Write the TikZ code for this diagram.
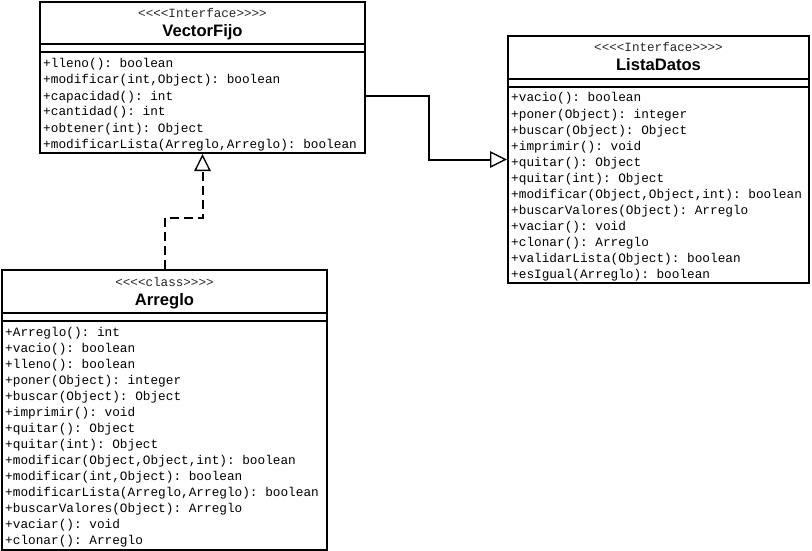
\documentclass[tikz,border=0pt]{standalone}
\usepackage{fontspec}
\setmainfont{Liberation Sans}
\setmonofont{Liberation Mono}
\usetikzlibrary{arrows.meta}
\begin{document}
\begin{tikzpicture}[x=1pt,y=-1pt]
\tikzset{
 classbox/.style={draw, line width=2pt, fill=white, inner sep=0pt, anchor=north west},
 sepline/.style={line width=2pt},
 stereo/.style={font=\fontsize{12.6}{13}\selectfont\ttfamily, text=black!85, anchor=base, inner sep=0pt},
 cname/.style={font=\fontsize{16.6}{18}\selectfont\bfseries, anchor=base, inner sep=0pt},
 meth/.style={font=\fontsize{12.75}{16}\selectfont\ttfamily, anchor=base west, inner sep=0pt},
 conn/.style={line width=2pt},
 realize/.style={conn, -{Triangle[open, fill=white, length=17pt, width=16.5pt, line width=1.4pt]}},
 impl/.style={realize, dash pattern=on 9pt off 5pt},
}
\useasboundingbox (0,0) rectangle (812,551);

% VectorFijo
\node[classbox, minimum width=325pt, minimum height=151pt] (vf) at (39,1) {};
\draw[sepline] ([yshift=-43pt]vf.north west) -- ([yshift=-43pt]vf.north east);
\draw[sepline] ([yshift=-51pt]vf.north west) -- ([yshift=-51pt]vf.north east);
\node[stereo] (vfst) at ([yshift=-17pt]vf.north) {<<<<Interface>>>>};
\node[cname] (vfname) at ([yshift=-36pt]vf.north) {VectorFijo};
\foreach \t [count=\i] in {
 {+lleno(): boolean},
 {+modificar(int,Object): boolean},
 {+capacidad(): int},
 {+cantidad(): int},
 {+obtener(int): Object},
 {+modificarLista(Arreglo,Arreglo): boolean}}
 \node[meth] (vfm\i) at ([xshift=4pt,yshift={-(67+(\i-1)*16)*1pt}]vf.north west) {\t};

% ListaDatos
\node[classbox, minimum width=301pt, minimum height=247pt] (ld) at (507,35) {};
\draw[sepline] ([yshift=-44pt]ld.north west) -- ([yshift=-44pt]ld.north east);
\draw[sepline] ([yshift=-52pt]ld.north west) -- ([yshift=-52pt]ld.north east);
\node[stereo] (ldst) at ([yshift=-17pt]ld.north) {<<<<Interface>>>>};
\node[cname] (ldname) at ([yshift=-36pt]ld.north) {ListaDatos};
\foreach \t [count=\i] in {
 {+vacio(): boolean},
 {+poner(Object): integer},
 {+buscar(Object): Object},
 {+imprimir(): void},
 {+quitar(): Object},
 {+quitar(int): Object},
 {+modificar(Object,Object,int): boolean},
 {+buscarValores(Object): Arreglo},
 {+vaciar(): void},
 {+clonar(): Arreglo},
 {+validarLista(Object): boolean},
 {+esIgual(Arreglo): boolean}}
 \node[meth] (ldm\i) at ([xshift=4pt,yshift={-(67+(\i-1)*16)*1pt}]ld.north west) {\t};

% Arreglo
\node[classbox, minimum width=325pt, minimum height=280pt] (ar) at (1,269) {};
\draw[sepline] ([yshift=-44pt]ar.north west) -- ([yshift=-44pt]ar.north east);
\draw[sepline] ([yshift=-52pt]ar.north west) -- ([yshift=-52pt]ar.north east);
\node[stereo] (arst) at ([yshift=-17pt]ar.north) {<<<<class>>>>};
\node[cname] (arname) at ([yshift=-36pt]ar.north) {Arreglo};
\foreach \t [count=\i] in {
 {+Arreglo(): int},
 {+vacio(): boolean},
 {+lleno(): boolean},
 {+poner(Object): integer},
 {+buscar(Object): Object},
 {+imprimir(): void},
 {+quitar(): Object},
 {+quitar(int): Object},
 {+modificar(Object,Object,int): boolean},
 {+modificar(int,Object): boolean},
 {+modificarLista(Arreglo,Arreglo): boolean},
 {+buscarValores(Object): Arreglo},
 {+vaciar(): void},
 {+clonar(): Arreglo}}
 \node[meth] (arm\i) at ([xshift=4pt,yshift={-(67+(\i-1)*16)*1pt}]ar.north west) {\t};

% connectors
\draw[realize] ([yshift=-18.5pt]vf.east) -- ++(63,0) |- (ld.west);
\draw[impl] (ar.north) -- ++(0,-51) -| (vf.south);
\end{tikzpicture}
\end{document}
